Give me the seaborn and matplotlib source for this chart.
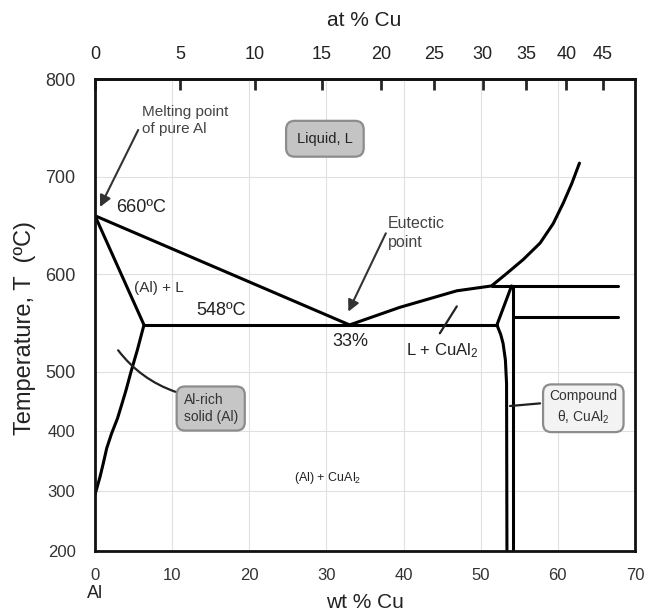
import numpy as np
import matplotlib
matplotlib.use('Agg')
import matplotlib.pyplot as plt
import seaborn as sns
from matplotlib import font_manager

# ==========================================
# Data
# ==========================================
wt_ticks = [0, 10, 20, 30, 40, 50, 60, 70]
at_ticks = [0, 5, 10, 15, 20, 25, 30, 35, 40, 45]
T_ticks = [200, 300, 400, 500, 600, 700, 800]

# liquidus, Al side
liq_left_wt = [0, 33]
liq_left_T = [660, 548]
# solidus, Al side
sol_wt = [0, 6.35]
sol_T = [660, 548]
# solvus of (Al)
solvus_wt = [6.35, 5.48, 4.67, 4.02, 3.44, 2.92, 2.16, 1.52, 1.08, 0.65, 0.30, 0]
solvus_T = [548, 522, 500, 469, 444, 422, 397, 372, 347, 324, 308, 294]
# eutectic isotherm
eut_wt = [6.35, 52.1]
eut_T = [548, 548]
# liquidus, CuAl2 side
liq_right_wt = [33, 39.5, 46.9, 51.4, 53.4, 55.5, 57.7, 59.4, 60.7, 61.8, 62.8]
liq_right_T = [548, 566, 583, 588, 601, 615, 632, 652, 673, 693, 714]
# theta phase boundaries
theta_left_wt = [54.0, 52.1, 52.6, 52.9, 53.2, 53.35, 53.4]
theta_left_T = [588, 548, 538, 529, 512, 480, 200]
theta_right_wt = [54.15, 54.15]
theta_right_T = [588, 200]
upper_iso_wt = [51.4, 67.8]
upper_iso_T = [588, 588]
lower_iso_wt = [54.15, 67.8]
lower_iso_T = [556, 556]

# ==========================================
# Style
# ==========================================
sns.set_theme(style='white')
names = {f.name for f in font_manager.fontManager.ttflist}
narrow = 'Liberation Sans Narrow' if 'Liberation Sans Narrow' in names else 'Liberation Sans'
regular = 'Liberation Sans'
plt.rcParams['font.family'] = [narrow, 'DejaVu Sans']
plt.rcParams['mathtext.fontset'] = 'custom'
plt.rcParams['mathtext.rm'] = narrow


# piecewise temperature scale (lower part compressed as in the original)
def t_fwd(t):
    t = np.asarray(t, dtype=float)
    return np.where(t <= 500, (t - 200) * 179.3 / 300, 179.3 + (t - 500) * 292.4 / 300)


def t_inv(v):
    v = np.asarray(v, dtype=float)
    return np.where(v <= 179.3, 200 + v * 300 / 179.3, 500 + (v - 179.3) * 300 / 292.4)


def wt_to_at(w):
    w = np.asarray(w, dtype=float)
    a = w / 63.55
    b = (100 - w) / 26.98
    return 100 * a / (a + b)


def at_to_wt(x):
    x = np.asarray(x, dtype=float)
    a = x * 63.55
    b = (100 - x) * 26.98
    return 100 * a / (a + b)


fig = plt.figure(figsize=(6.57, 6.13), dpi=100)
ax = fig.add_axes([95 / 657, 1 - 551 / 613, 540 / 657, (551 - 79.3) / 613])
ax.set_yscale('function', functions=(t_fwd, t_inv))

line_kw = dict(color='black', lw=2.2, sort=False, estimator=None, ax=ax, legend=False)
for xs, ys in [(liq_left_wt, liq_left_T), (sol_wt, sol_T), (solvus_wt, solvus_T),
               (eut_wt, eut_T), (liq_right_wt, liq_right_T), (theta_left_wt, theta_left_T),
               (theta_right_wt, theta_right_T), (upper_iso_wt, upper_iso_T),
               (lower_iso_wt, lower_iso_T)]:
    sns.lineplot(x=xs, y=ys, **line_kw)

ax.set_xlim(0, 70)
ax.set_ylim(200, 800)
ax.set_xticks(wt_ticks)
ax.set_yticks(T_ticks)
ax.grid(True, color='#e0e0e0', lw=0.8)
ax.set_axisbelow(True)
for s in ax.spines.values():
    s.set_linewidth(2)
    s.set_color('#111111')
ax.tick_params(axis='both', length=0)
ax.tick_params(axis='x', pad=12, labelsize=12, labelcolor='#333333')
ax.tick_params(axis='y', pad=14, labelcolor='#333333')
for lab in ax.get_xticklabels():
    lab.set_fontfamily(regular)
for lab, t in zip(ax.get_yticklabels(), T_ticks):
    if t <= 400:
        lab.set_fontfamily(regular)
        lab.set_fontsize(12)
    else:
        lab.set_fontfamily(narrow)
        lab.set_fontsize(13)

secax = ax.secondary_xaxis('top', functions=(wt_to_at, at_to_wt))
secax.set_xticks(at_ticks)
secax.tick_params(direction='in', length=8, width=2, pad=12, labelsize=13, labelcolor='#222222')
secax.spines['top'].set_linewidth(2)

# ==========================================
# Labels
# ==========================================
fig.text(364 / 657, 1 - 20 / 613, 'at % Cu', ha='center', va='center', fontsize=15, color='#222222')
fig.text(365 / 657, 1 - 602 / 613, 'wt % Cu', ha='center', va='center', fontsize=15,
         family=regular, color='#222222')
fig.text(95 / 657, 1 - 593 / 613, 'Al', ha='center', va='center', fontsize=13,
         family=regular, color='#222222')
fig.text(25 / 657, 1 - 328 / 613, 'Temperature, T  (ºC)', rotation=90, ha='center', va='center',
         fontsize=17, color='#222222')

# ==========================================
# Annotations
# ==========================================
arrow = dict(arrowstyle='-|>', color='#333333', lw=1.5, mutation_scale=17, shrinkA=0, shrinkB=0)
leader = dict(arrowstyle='-', color='#222222', lw=1.6, shrinkA=0, shrinkB=0)

ax.text(6.1, 774, 'Melting point\nof pure Al', ha='left', va='top', fontsize=11,
        color='#444444', linespacing=1.35)
ax.annotate('', xy=(0.65, 669), xytext=(5.6, 748), arrowprops=arrow)
ax.text(6.0, 668, '660ºC', ha='center', va='center', fontsize=13, color='#222222')
ax.text(8.3, 586, '(Al) + L', ha='center', va='center', fontsize=11, color='#333333')
ax.text(16.3, 563, '548ºC', ha='center', va='center', fontsize=13, color='#222222')
ax.text(29.8, 739, 'Liquid, L', ha='center', va='center', fontsize=10.5, color='#222222',
        bbox=dict(boxstyle='round,pad=0.75,rounding_size=0.6', fc='#c4c4c4', ec='#8c8c8c', lw=1.6))
ax.text(38.0, 642, 'Eutectic\npoint', ha='left', va='center', fontsize=11.5, color='#444444',
        linespacing=1.35)
ax.annotate('', xy=(32.84, 561.6), xytext=(37.7, 642), arrowprops=arrow)
ax.text(33.05, 530.5, '33%', ha='center', va='center', fontsize=13, color='#222222')
ax.text(45.0, 522, r'L + CuAl$\mathregular{_2}$', ha='center', va='center', fontsize=12,
        color='#222222')
ax.annotate('', xy=(46.9, 567), xytext=(44.7, 539.4), arrowprops=leader)
ax.text(15.0, 438.4, 'Al-rich\nsolid (Al)', ha='center', va='center', fontsize=10,
        family=regular, color='#333333', multialignment='left',
        bbox=dict(boxstyle='round,pad=0.5,rounding_size=0.6', fc='#c6c6c6', ec='#8c8c8c', lw=1.6))
ax.annotate('', xy=(3.0, 522), xytext=(10.4, 466.5),
            arrowprops=dict(leader, connectionstyle='arc3,rad=-0.15'))
ax.text(30.2, 322, r'(Al) + CuAl$\mathregular{_2}$', ha='center', va='center', fontsize=9,
        family=regular, color='#222222')
ax.text(63.3, 440, 'Compound\nθ, CuAl$\\mathregular{_2}$', ha='center', va='center', fontsize=10,
        family=regular, color='#333333', linespacing=1.4,
        bbox=dict(boxstyle='round,pad=0.45,rounding_size=0.6', fc='#f3f3f3', ec='#8c8c8c', lw=1.6))
ax.annotate('', xy=(53.8, 442.6), xytext=(57.7, 447), arrowprops=leader)

fig.savefig('out.png', dpi=100)
plt.close(fig)
